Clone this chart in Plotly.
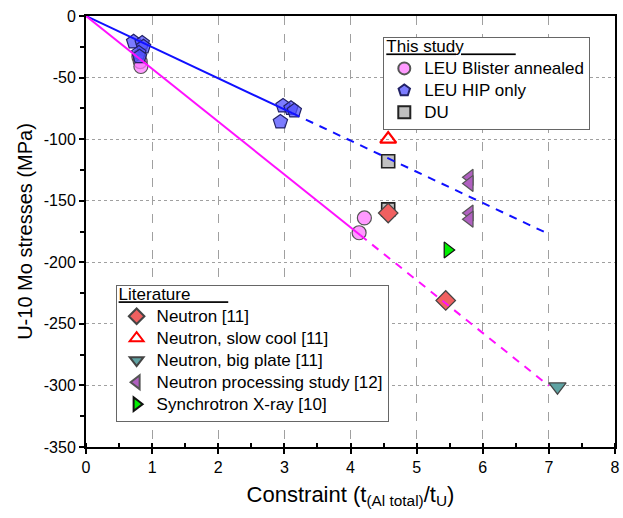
import plotly.graph_objects as go

# ---- data ----
blister_x = [0.80, 0.82, 0.83, 4.21, 4.13]
blister_y = [-33, -37, -41, -164, -176]

hip_x = [0.72, 0.85, 0.87, 0.80, 0.81, 2.98, 3.10, 3.15, 2.94]
hip_y = [-21, -22, -25, -30, -33, -73, -75, -77, -86]

du_x = [4.57, 4.57]
du_y = [-118, -157]

neutron_x = [4.57, 5.44]
neutron_y = [-160, -231]

slowcool_x = [4.57]
slowcool_y = [-100]

bigplate_x = [7.13]
bigplate_y = [-301]

proc_x = [5.80, 5.80, 5.80, 5.80]
proc_y = [-131, -136, -160, -165]

synch_x = [5.47]
synch_y = [-190]

# linear fits through origin (slope in MPa per unit constraint)
hip_slope = -25.3
blister_slope = -42.9
hip_fit_solid_x = [0, 3.12]
hip_fit_dash_x = [3.12, 7.0]
blister_fit_solid_x = [0, 4.15]
blister_fit_dash_x = [4.15, 7.0]

x_ticks = [0, 1, 2, 3, 4, 5, 6, 7, 8]
y_ticks = [0, -50, -100, -150, -200, -250, -300, -350]

FONT = "Liberation Sans, Arial, sans-serif"
LEG_TXT = 17


def lg(s):
    return '<span style="font-size:%dpx">%s</span>' % (LEG_TXT, s)


fig = go.Figure()

fig.add_trace(go.Scatter(x=blister_x, y=blister_y, mode="markers", name=lg("LEU Blister annealed"),
                         legend="legend",
                         marker=dict(symbol="circle", size=14, color="rgba(255,120,255,0.75)", line=dict(color="#555555", width=1.2))))
fig.add_trace(go.Scatter(x=hip_x, y=hip_y, mode="markers", name=lg("LEU HIP only"),
                         legend="legend",
                         marker=dict(symbol="pentagon", size=15, color="rgba(80,80,255,0.75)", line=dict(color="#222266", width=1.2))))
fig.add_trace(go.Scatter(x=du_x, y=du_y, mode="markers", name=lg("DU"),
                         legend="legend",
                         marker=dict(symbol="square", size=13, color="#c0c0c0", line=dict(color="#222222", width=1.6))))

fig.add_trace(go.Scatter(x=neutron_x, y=neutron_y, mode="markers", name=lg("Neutron [11]"),
                         legend="legend2",
                         marker=dict(symbol="diamond", size=15, color="#f06060", line=dict(color="#444444", width=1.2))))
fig.add_trace(go.Scatter(x=slowcool_x, y=slowcool_y, mode="markers", name=lg("Neutron, slow cool [11]"),
                         legend="legend2",
                         marker=dict(symbol="triangle-up-open", size=14, color="#ff0000", line=dict(color="#ff0000", width=2.2))))
fig.add_trace(go.Scatter(x=bigplate_x, y=bigplate_y, mode="markers", name=lg("Neutron, big plate [11]"),
                         legend="legend2",
                         marker=dict(symbol="triangle-down", size=15, color="#5fa3a3", line=dict(color="#444444", width=1.2))))
fig.add_trace(go.Scatter(x=proc_x, y=proc_y, mode="markers", name=lg("Neutron processing study [12]"),
                         legend="legend2",
                         marker=dict(symbol="triangle-left", size=14, color="#b060c0", line=dict(color="#555555", width=1.2))))
fig.add_trace(go.Scatter(x=synch_x, y=synch_y, mode="markers", name=lg("Synchrotron X-ray [10]"),
                         legend="legend2",
                         marker=dict(symbol="triangle-right", size=14, color="#00ee00", line=dict(color="#111111", width=1.2))))

# fit lines
fig.add_trace(go.Scatter(x=hip_fit_solid_x, y=[hip_slope * v for v in hip_fit_solid_x], mode="lines",
                         showlegend=False, line=dict(color="#1010ff", width=2)))
fig.add_trace(go.Scatter(x=hip_fit_dash_x, y=[hip_slope * v for v in hip_fit_dash_x], mode="lines",
                         showlegend=False, line=dict(color="#1010ff", width=2, dash="8px,7px")))
fig.add_trace(go.Scatter(x=blister_fit_solid_x, y=[blister_slope * v for v in blister_fit_solid_x], mode="lines",
                         showlegend=False, line=dict(color="#ff10ff", width=2)))
fig.add_trace(go.Scatter(x=blister_fit_dash_x, y=[blister_slope * v for v in blister_fit_dash_x], mode="lines",
                         showlegend=False, line=dict(color="#ff10ff", width=2, dash="8px,7px")))

NB = "\u00a0"

fig.update_layout(
    width=623, height=518,
    margin=dict(l=86, r=3, t=16, b=71),
    paper_bgcolor="white", plot_bgcolor="white",
    font=dict(family=FONT, size=15, color="black"),
    showlegend=True,
    legend=dict(
        x=0.562, y=0.951, xanchor="left", yanchor="top",
        bgcolor="white", bordercolor="#666666", borderwidth=1,
        font=dict(size=14.6, family=FONT),
        title=dict(text=lg("<u>This study" + NB * 11 + "</u>"), font=dict(size=11, family=FONT)),
        tracegroupgap=0, itemsizing="constant",
    ),
    legend2=dict(
        x=0.056, y=0.376, xanchor="left", yanchor="top",
        bgcolor="white", bordercolor="#666666", borderwidth=1,
        font=dict(size=14.6, family=FONT),
        title=dict(text=lg("<u>Literature" + NB * 8 + "</u>"), font=dict(size=11, family=FONT)),
        tracegroupgap=0, itemsizing="constant",
    ),
    xaxis=dict(
        range=[0, 8], tickvals=x_ticks, ticktext=[str(v) for v in x_ticks],
        showline=True, linecolor="black", linewidth=2, mirror=True,
        ticks="outside", ticklen=5, tickwidth=1.5, tickcolor="black",
        showgrid=True, gridcolor="#a0a0a0", gridwidth=1.2, griddash="dash",
        minor=dict(dtick=0.5, ticks="inside", ticklen=4, tickwidth=1.5, tickcolor="black", showgrid=False),
        zeroline=False,
        tickfont=dict(size=16, family=FONT),
        title=dict(text="Constraint (t<sub>(Al total)</sub>/t<sub>U</sub>)", font=dict(size=22, family=FONT), standoff=11),
    ),
    yaxis=dict(
        range=[-350, 0], tickvals=y_ticks, ticktext=[str(v) for v in y_ticks],
        showline=True, linecolor="black", linewidth=2, mirror=True,
        ticks="outside", ticklen=5, tickwidth=1.5, tickcolor="black",
        showgrid=True, gridcolor="#a0a0a0", gridwidth=1.2, griddash="dot",
        minor=dict(dtick=25, ticks="outside", ticklen=4, tickwidth=1.5, tickcolor="black", showgrid=False),
        zeroline=False,
        tickfont=dict(size=16, family=FONT),
        title=dict(text="U-10 Mo stresses (MPa)", font=dict(size=20, family=FONT), standoff=6),
    ),
)

fig.write_html("out.html")
